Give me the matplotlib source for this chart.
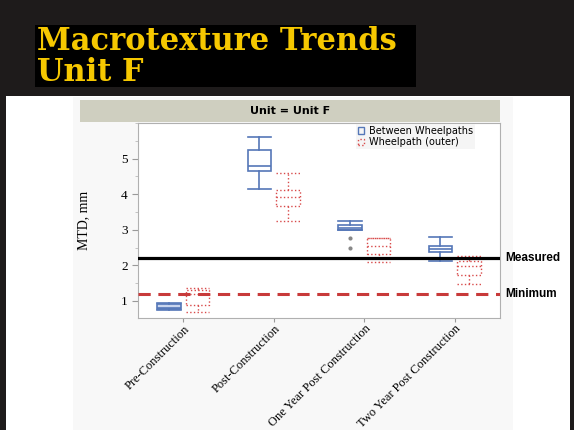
import matplotlib.pyplot as plt
from matplotlib.patches import Rectangle, Patch
from matplotlib.ticker import MultipleLocator

# Data
categories = ["Pre-Construction", "Post-Construction",
              "One Year Post Construction", "Two Year Post Construction"]

# whisker low, q1, median, q3, whisker high
between_low = [0.74, 4.15, 3.00, 2.12]
between_q1 = [0.76, 4.66, 3.00, 2.37]
between_med = [0.80, 4.79, 3.06, 2.46]
between_q3 = [0.90, 5.24, 3.14, 2.55]
between_high = [0.93, 5.60, 3.26, 2.79]
between_fliers = [[], [], [2.78, 2.48], []]

outer_low = [0.68, 3.25, 2.10, 1.47]
outer_q1 = [0.88, 3.68, 2.31, 1.73]
outer_med = [1.20, 3.92, 2.55, 1.98]
outer_q3 = [1.30, 4.13, 2.76, 2.13]
outer_high = [1.35, 4.60, 2.78, 2.26]

measured = 2.2
minimum = 1.2

blue = "#5577b8"
red = "#d84a4a"

W, H = 574, 430
fig = plt.figure(figsize=(W / 100, H / 100), dpi=100)
fig.patch.set_facecolor("#1e1b1b")


def fr(x0, y0, x1, y1):
    # pixel box (top-left origin) -> figure fraction rect
    return (x0 / W, 1 - y1 / H, (x1 - x0) / W, (y1 - y0) / H)


def add_rect(box, col, z):
    x, y, w, h = fr(*box)
    fig.patches.append(Rectangle((x, y), w, h, transform=fig.transFigure,
                                 facecolor=col, edgecolor="none", zorder=z))


# white slide panel, the chart image area, title block, strip
add_rect((6, 96, 570, 430), "white", -5)
add_rect((73, 97, 513, 430), "#f8f8f8", -4)
add_rect((35, 25, 416, 87), "black", -3)
add_rect((80, 100, 500, 122), "#cfcfc0", -3)

fig.text(37 / W, 1 - 50 / H, "Macrotexture Trends", color="#f6c800",
         fontsize=22, fontweight="heavy", family="DejaVu Serif", va="baseline")
fig.text(37 / W, 1 - 81 / H, "Unit F", color="#f6c800",
         fontsize=22, fontweight="heavy", family="DejaVu Serif", va="baseline")
fig.text(290 / W, 1 - 111 / H, "Unit = Unit F", ha="center", va="center",
         fontsize=8, fontweight="bold", family="DejaVu Sans")

ax = fig.add_axes(fr(138, 123, 500, 318))
ax.set_facecolor("white")

pos = list(range(len(categories)))
stats_b, stats_o = [], []
for i in pos:
    stats_b.append(dict(whislo=between_low[i], q1=between_q1[i], med=between_med[i],
                        q3=between_q3[i], whishi=between_high[i], fliers=between_fliers[i]))
    stats_o.append(dict(whislo=outer_low[i], q1=outer_q1[i], med=outer_med[i],
                        q3=outer_q3[i], whishi=outer_high[i], fliers=[]))

bp = ax.bxp(stats_b, positions=[p - 0.16 for p in pos], widths=0.26, capwidths=0.26,
            patch_artist=True,
            boxprops=dict(edgecolor=blue, facecolor="white", lw=1.2),
            medianprops=dict(color=blue, lw=1.2),
            whiskerprops=dict(color=blue, lw=1.2), capprops=dict(color=blue, lw=1.2),
            flierprops=dict(marker="o", markersize=3, markerfacecolor="#888888",
                            markeredgecolor="none"), manage_ticks=False)
bp["boxes"][0].set_facecolor("#c9d5ee")
ax.bxp(stats_o, positions=[p + 0.16 for p in pos], widths=0.26, capwidths=0.26,
       boxprops=dict(color=red, lw=1, ls=":"), medianprops=dict(color=red, lw=1, ls=":"),
       whiskerprops=dict(color=red, lw=1, ls=":"), capprops=dict(color=red, lw=1, ls=":"),
       manage_ticks=False)

ax.axhline(measured, color="black", lw=2.3, zorder=5)
ax.axhline(minimum, color="#c83a3a", lw=2.2, ls=(0, (4, 2.5)), zorder=5)
for val, txt in [(measured, "Measured"), (minimum, "Minimum")]:
    ax.text(1.015, val, txt, transform=ax.get_yaxis_transform(),
            va="center", ha="left", fontsize=8.5, fontweight="bold",
            family="Liberation Sans", clip_on=False)

ax.set_xlim(-0.5, 3.5)
ax.set_ylim(0.52, 6.0)
ax.set_xticks(pos)
ax.set_xticklabels(categories, rotation=45, ha="right", rotation_mode="anchor",
                   family="Liberation Serif", fontsize=9)
ax.set_yticks([1, 2, 3, 4, 5])
ax.yaxis.set_minor_locator(MultipleLocator(0.5))
ax.tick_params(axis="y", labelsize=9.5, length=4, color="#999999")
ax.tick_params(axis="y", which="minor", length=2, color="#bbbbbb")
ax.tick_params(axis="x", length=3, pad=0.5, color="#999999")
for lab in ax.get_yticklabels():
    lab.set_family("Liberation Serif")
ax.set_ylabel("MTD, mm", family="Liberation Serif", fontsize=10, labelpad=22)
for s in ax.spines.values():
    s.set_color("#b0b0b0")
    s.set_linewidth(0.8)

handles = [Patch(facecolor="none", edgecolor=blue, lw=1),
           Patch(facecolor="none", edgecolor=red, lw=1, ls=":")]
leg = ax.legend(handles, ["Between Wheelpaths", "Wheelpath (outer)"],
                loc="upper left", bbox_to_anchor=(0.6, 1.0), fontsize=7,
                frameon=True, facecolor="#f3f3f3", edgecolor="none", fancybox=False,
                handlelength=0.6, handleheight=0.6, handletextpad=0.5,
                borderpad=0.2, labelspacing=0.15, borderaxespad=0.1)

fig.savefig("out.png", dpi=100, facecolor=fig.get_facecolor())
